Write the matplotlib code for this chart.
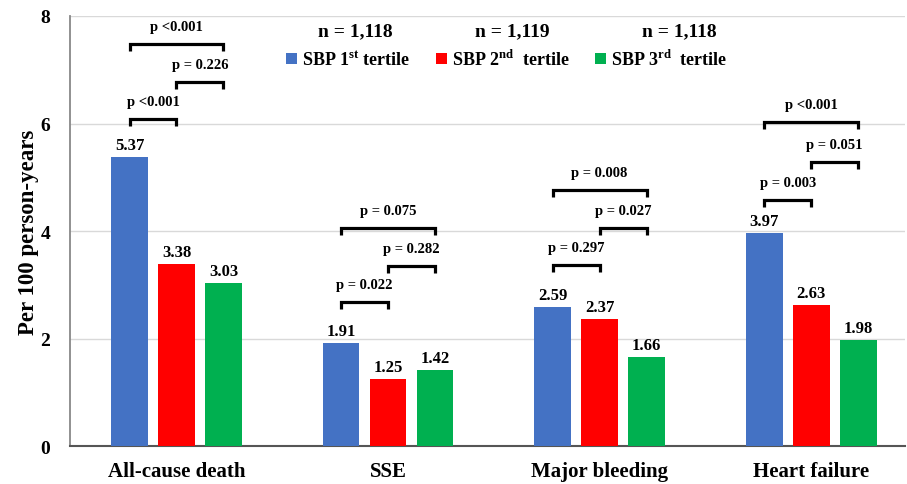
import matplotlib
matplotlib.use("Agg")
import matplotlib.pyplot as plt
import numpy as np

plt.rcParams['font.family'] = ['Liberation Serif', 'DejaVu Serif']
plt.rcParams['font.weight'] = 'bold'
plt.rcParams['mathtext.fontset'] = 'custom'
plt.rcParams['mathtext.rm'] = 'Liberation Serif:bold'
plt.rcParams['mathtext.bf'] = 'Liberation Serif:bold'

categories = ["All-cause death", "SSE", "Major bleeding", "Heart failure"]
series_names = [r"SBP 1$^{\rm st}$ tertile", r"SBP 2$^{\rm nd}$  tertile", r"SBP 3$^{\rm rd}$  tertile"]
n_labels = ["n = 1,118", "n = 1,119", "n = 1,118"]
tertile1 = [5.37, 1.91, 2.59, 3.97]
tertile2 = [3.38, 1.25, 2.37, 2.63]
tertile3 = [3.03, 1.42, 1.66, 1.98]
colors = ["#4472C4", "#FF0000", "#00B050"]

# p-value brackets: (category index, from series, to series, bracket level, label)
bracket_cat = [0, 0, 0, 1, 1, 1, 2, 2, 2, 3, 3, 3]
bracket_from = [0, 1, 0, 0, 1, 0, 0, 1, 0, 0, 1, 0]
bracket_to = [1, 2, 2, 1, 2, 2, 1, 2, 2, 1, 2, 2]
bracket_y = [6.08, 6.77, 7.47, 2.68, 3.35, 4.06, 3.37, 4.06, 4.77, 4.58, 5.28, 6.03]
bracket_p = ["p <0.001", "p = 0.226", "p <0.001",
             "p = 0.022", "p = 0.282", "p = 0.075",
             "p = 0.297", "p = 0.027", "p = 0.008",
             "p = 0.003", "p = 0.051", "p <0.001"]

fig = plt.figure(figsize=(9.07, 4.85), dpi=100)
ax = fig.add_axes([0.077, 0.078, 0.921, 0.887])

x = np.arange(len(categories))
offset = 0.222
width = 0.173
series = [tertile1, tertile2, tertile3]
for k, (vals, c, name) in enumerate(zip(series, colors, series_names)):
    xs = x + (k - 1) * offset
    bars = ax.bar(xs, vals, width=width, color=c, label=name, zorder=3)
    for xi, v in zip(xs, vals):
        ax.annotate(f"{v:.2f}", (xi, v), xytext=(0, 3), textcoords="offset points",
                    ha="center", va="bottom", fontsize=12, fontweight="bold")

leg = 0.13
for ci, a, b, y, lab in zip(bracket_cat, bracket_from, bracket_to, bracket_y, bracket_p):
    x1 = ci + (a - 1) * offset
    x2 = ci + (b - 1) * offset
    ax.plot([x1, x1, x2, x2], [y - leg, y, y, y - leg], color="black", lw=2.3,
            solid_joinstyle="miter", solid_capstyle="butt", zorder=4)
    ax.annotate(lab, ((x1 + x2) / 2, y), xytext=(0, 8), textcoords="offset points",
                ha="center", va="bottom", fontsize=10.5, fontweight="bold")

ax.set_xlim(-0.504, 3.444)
ax.set_ylim(0, 8)
ax.set_yticks([0, 2, 4, 6, 8])
ax.set_xticks(x)
ax.set_xticklabels(categories, fontsize=15, fontweight="bold")
ax.tick_params(axis="both", length=0)
ax.tick_params(axis="y", pad=14, labelsize=14)
ax.tick_params(axis="x", pad=11)
ax.yaxis.grid(True, color="#d9d9d9", lw=1, zorder=0)
ax.set_axisbelow(True)
for s in ["top", "right"]:
    ax.spines[s].set_visible(False)
ax.spines["left"].set_color("#888888")
ax.spines["left"].set_linewidth(1.3)
ax.spines["bottom"].set_color("#555555")
ax.spines["bottom"].set_linewidth(1.5)
ax.set_ylabel("Per 100 person-years", fontsize=16.5, fontweight="bold")
ax.yaxis.set_label_coords(-0.037, 0.5)

lg = ax.legend(loc="upper left", bbox_to_anchor=(286 / 907, 1 - 50 / 485),
               bbox_transform=fig.transFigure, ncol=3, frameon=False,
               handlelength=0.6, handleheight=0.6, handletextpad=0.3,
               columnspacing=1.4, borderpad=0, borderaxespad=0,
               prop={"size": 13, "weight": "bold"})

n_x = [355, 512, 679]
for nx, nl in zip(n_x, n_labels):
    fig.text(nx / 907, 1 - 32 / 485, nl, ha="center", va="center", fontsize=14, fontweight="bold")

fig.savefig("out.png", dpi=100)
